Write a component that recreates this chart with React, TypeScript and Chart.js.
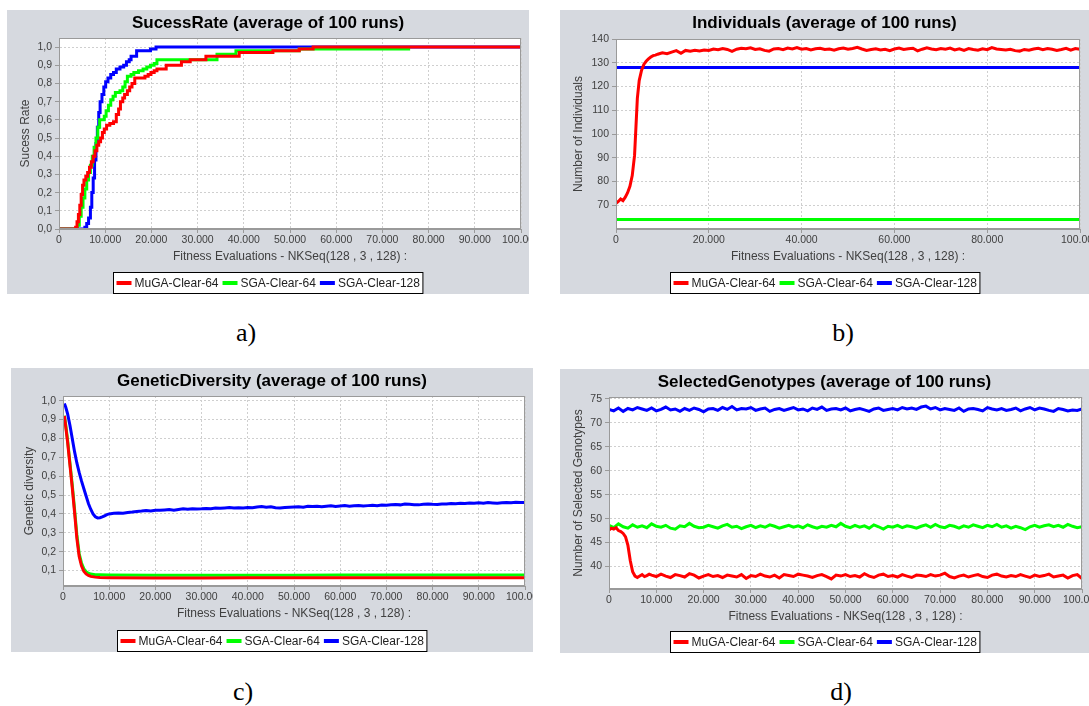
import React, { useEffect, useRef } from 'react';
import { Chart, registerables } from 'chart.js';

Chart.register(...registerables);

// ---------- shared labels ----------
const SERIES_NAMES = ['MuGA-Clear-64', 'SGA-Clear-64', 'SGA-Clear-128'];
const SERIES_COLORS = ['#ff0000', '#00ff00', '#0000ff'];
const X_TITLE = 'Fitness Evaluations - NKSeq(128 , 3 , 128) :';

// tick positions (x in thousands of fitness evaluations)
const EVAL_TICKS_10K = [0, 10, 20, 30, 40, 50, 60, 70, 80, 90, 100];
const EVAL_TICKS_20K = [0, 20, 40, 60, 80, 100];
const SUCCESS_TICKS = [0, 0.1, 0.2, 0.3, 0.4, 0.5, 0.6, 0.7, 0.8, 0.9, 1.0];
const INDIV_TICKS = [70, 80, 90, 100, 110, 120, 130, 140];
const DIV_TICKS = [0.1, 0.2, 0.3, 0.4, 0.5, 0.6, 0.7, 0.8, 0.9, 1.0];
const SEL_TICKS = [40, 45, 50, 55, 60, 65, 70, 75];

type Pt = [number, number];

// ---------- a) success rate (step curves) ----------
const SUCCESS_MUGA64: Pt[] = [
  [0, 0], [3.6, 0.01], [3.9, 0.04], [4.2, 0.08], [4.5, 0.13], [4.8, 0.19], [5.1, 0.24], [5.4, 0.27],
  [5.8, 0.29], [6.2, 0.31], [6.6, 0.34], [7.0, 0.37], [7.4, 0.4], [7.8, 0.43], [8.2, 0.46], [8.6, 0.48],
  [9.0, 0.5], [9.4, 0.53], [9.8, 0.55], [10.3, 0.57], [11.0, 0.58], [11.8, 0.59], [12.4, 0.63],
  [12.9, 0.66], [13.3, 0.7], [13.8, 0.72], [14.2, 0.74], [14.8, 0.76], [15.3, 0.78], [15.8, 0.8],
  [16.4, 0.83], [18.0, 0.83], [18.6, 0.84], [19.3, 0.85], [19.9, 0.86], [20.6, 0.87], [21.2, 0.88],
  [23.2, 0.9], [26.5, 0.92], [28.4, 0.93], [31.8, 0.95], [39.0, 0.97], [46.3, 0.98], [52.0, 0.99],
  [55.0, 1.0], [100, 1.0],
];
const SUCCESS_SGA64: Pt[] = [
  [0, 0], [4.0, 0.02], [4.4, 0.07], [4.8, 0.12], [5.2, 0.17], [5.6, 0.22], [6.0, 0.27], [6.4, 0.31],
  [6.8, 0.35], [7.2, 0.4], [7.6, 0.45], [8.0, 0.5], [8.4, 0.56], [8.8, 0.6], [9.8, 0.62], [10.2, 0.65],
  [10.7, 0.68], [11.2, 0.71], [11.7, 0.73], [12.2, 0.75], [13.2, 0.76], [13.8, 0.78], [14.3, 0.81],
  [14.8, 0.84], [15.6, 0.85], [16.2, 0.86], [17.2, 0.87], [18.2, 0.88], [19.0, 0.89], [19.8, 0.9],
  [20.6, 0.91], [21.2, 0.93], [34.2, 0.96], [38.3, 0.98], [52.0, 0.99], [76.0, 0.99],
];
const SUCCESS_SGA128: Pt[] = [
  [0, 0], [5.6, 0.01], [6.0, 0.03], [6.4, 0.06], [6.8, 0.12], [7.1, 0.2], [7.4, 0.28], [7.7, 0.38],
  [8.0, 0.47], [8.3, 0.56], [8.6, 0.64], [8.9, 0.7], [9.3, 0.74], [9.7, 0.78], [10.1, 0.81],
  [10.6, 0.83], [11.2, 0.85], [11.8, 0.86], [12.4, 0.88], [13.2, 0.89], [14.0, 0.9], [14.6, 0.92],
  [15.2, 0.93], [15.6, 0.95], [16.8, 0.98], [19.8, 0.99], [21.0, 1.0], [100, 1.0],
];

// ---------- b) number of individuals ----------
const INDIV_MUGA64_EARLY: Pt[] = [
  [0, 70.8], [0.5, 71.6], [1, 72.6], [1.5, 71.9], [2, 73.4], [2.5, 75.3], [3, 78], [3.5, 82.5],
  [4, 91], [4.3, 103], [4.6, 115], [5, 122.5], [5.5, 126.8], [6, 129.3], [6.5, 130.6], [7, 131.6],
  [7.5, 132.4], [8, 133], [8.5, 133.2], [9, 133.6], [9.5, 133.9],
];
// one value per 1.000 evaluations, from 10.000 to 100.000
const INDIV_MUGA64_TAIL = [
  134.2, 133.8, 134.5, 135.1, 134.0, 135.2, 134.9, 135.3, 135.0, 135.4,
  135.2, 135.8, 135.5, 136.0, 135.6, 134.8, 135.7, 136.1, 135.9, 136.3,
  135.6, 135.9, 135.2, 134.9, 135.8, 136.0, 135.5, 136.2, 135.8, 136.4,
  135.7, 136.0, 135.4, 135.9, 136.1, 135.6, 135.8, 135.3, 135.9, 136.2,
  135.7, 136.0, 136.5, 135.8, 135.2, 135.6, 135.9, 135.4, 135.7, 135.1,
  135.8, 136.2, 135.6, 135.9, 136.1, 135.0, 135.7, 136.3, 135.8, 135.5,
  136.0, 135.7, 136.2, 135.4, 135.9, 135.2, 136.0, 135.6, 135.3, 135.9,
  135.5, 136.4, 135.8, 135.6, 135.4, 135.7, 135.1, 134.9, 135.6, 135.3,
  135.8, 136.1, 135.5, 136.0, 135.7, 135.2, 135.6, 136.1, 135.3, 136.0,
  135.7,
];
const INDIV_SGA64: Pt[] = [[0, 64], [100, 64]];
const INDIV_SGA128: Pt[] = [[0, 128], [100, 128]];

// ---------- c) genetic diversity ----------
const DIV_MUGA64: Pt[] = [
  [0.3, 0.92], [0.6, 0.86], [1.0, 0.78], [1.5, 0.66], [2.0, 0.54], [2.5, 0.41], [3.0, 0.27],
  [3.5, 0.175], [4.0, 0.125], [4.5, 0.097], [5.0, 0.082], [5.5, 0.074], [6.0, 0.069], [7.0, 0.065],
  [8.0, 0.063], [10, 0.062], [20, 0.061], [30, 0.061], [40, 0.062], [50, 0.062], [60, 0.062],
  [70, 0.062], [80, 0.062], [90, 0.062], [100, 0.062],
];
const DIV_SGA64: Pt[] = [
  [0.3, 0.92], [0.6, 0.87], [1.0, 0.79], [1.5, 0.67], [2.0, 0.555], [2.5, 0.425], [3.0, 0.29],
  [3.5, 0.19], [4.0, 0.14], [4.5, 0.11], [5.0, 0.094], [5.5, 0.086], [6.0, 0.081], [7.0, 0.078],
  [8.0, 0.077], [10, 0.076], [20, 0.075], [30, 0.075], [40, 0.075], [50, 0.075], [60, 0.076],
  [70, 0.076], [80, 0.076], [90, 0.076], [100, 0.076],
];
const DIV_SGA128_EARLY: Pt[] = [
  [0.3, 0.985], [0.6, 0.965], [1.0, 0.93], [1.5, 0.87], [2.0, 0.8], [2.5, 0.73], [3.0, 0.67],
  [3.5, 0.62], [4.0, 0.575], [4.5, 0.535], [5.0, 0.495], [5.5, 0.455], [6.0, 0.425], [6.5, 0.4],
  [7.0, 0.385], [7.5, 0.379], [8.0, 0.38], [8.5, 0.384], [9.0, 0.39], [9.5, 0.396], [10, 0.4],
];
// one value per 1.000 evaluations, from 11.000 to 100.000
const DIV_SGA128_TAIL = [
  0.403, 0.405, 0.404, 0.408, 0.41, 0.413, 0.415, 0.418, 0.416, 0.42,
  0.419, 0.421, 0.423, 0.42, 0.424, 0.427, 0.425, 0.428, 0.426, 0.427,
  0.429, 0.428, 0.431, 0.43, 0.432, 0.434, 0.431, 0.433, 0.432, 0.434,
  0.433, 0.437, 0.439, 0.436, 0.438, 0.433, 0.431, 0.434, 0.436, 0.437,
  0.438, 0.436, 0.441, 0.439, 0.44, 0.438, 0.441, 0.443, 0.44, 0.442,
  0.444, 0.441, 0.443, 0.445, 0.442, 0.444, 0.446, 0.443, 0.447, 0.446,
  0.449, 0.45, 0.448, 0.452, 0.451, 0.449, 0.448, 0.451, 0.453, 0.451,
  0.45, 0.453, 0.452, 0.455, 0.454, 0.456, 0.455, 0.458, 0.456, 0.459,
  0.457, 0.46, 0.458, 0.456, 0.459, 0.461, 0.459, 0.462, 0.46, 0.461,
];

// ---------- d) selected genotypes ----------
const SEL_MUGA64_EARLY: Pt[] = [
  [0, 47.6], [0.5, 48.0], [1, 47.8], [1.5, 48.1], [2, 47.5], [2.5, 47.3], [3, 46.9], [3.5, 46.2],
  [4, 44.4], [4.5, 41.2], [5, 38.9], [5.5, 38.0], [6, 37.7], [6.5, 38.0], [7, 38.3], [7.5, 37.9],
  [8, 38.1], [8.5, 38.4],
];
// one value per 1.000 evaluations, from 9.000 to 100.000
const SEL_MUGA64_TAIL = [
  38.2, 37.9, 38.4, 38.0, 37.7, 38.3, 38.1, 37.8, 38.5, 38.2,
  37.6, 38.0, 38.3, 37.9, 38.1, 37.7, 38.2, 38.0, 37.8, 38.3,
  37.5, 38.1, 37.9, 38.4, 38.0, 37.8, 38.2, 37.6, 38.3, 38.1,
  37.9, 38.4, 38.2, 38.0, 37.7, 38.1, 38.3, 37.9, 37.4, 38.2,
  38.0, 38.3, 37.9, 38.1, 37.8, 38.5, 38.0, 37.7, 38.2, 38.4,
  37.9, 38.1, 37.8, 38.3, 38.0, 37.7, 38.2, 38.1, 37.9, 38.3,
  38.0, 38.2, 38.6, 37.9, 37.6, 38.0, 38.2, 37.8, 38.1, 38.3,
  37.9, 37.7, 38.2, 38.4, 38.0, 37.8, 38.1, 37.9, 38.3, 38.0,
  37.7, 38.2, 37.9, 38.1, 38.4, 37.8, 38.0, 38.2, 37.6, 38.1,
  38.3, 37.5,
];
// one value per 1.000 evaluations, from 0 to 100.000
const SEL_SGA64 = [
  48.6, 48.1, 48.9, 48.3, 48.0, 48.7, 48.2, 48.5, 48.1, 48.9,
  48.4, 48.2, 48.6, 48.0, 47.8, 48.5, 48.3, 49.0, 48.4, 48.1,
  48.2, 48.6, 48.3, 48.0, 48.5, 48.8, 48.2, 48.4, 47.9, 48.3,
  48.6, 48.1, 48.5, 48.2, 48.7, 48.4, 48.0, 48.3, 48.6, 48.2,
  48.5, 48.1, 48.7, 48.3, 48.0, 48.4, 48.2, 48.6, 48.3, 49.0,
  48.4, 48.1, 48.6, 48.2, 48.5, 48.0, 48.7, 48.3, 47.8, 48.4,
  48.2, 48.6, 48.1, 48.5, 48.3, 48.0, 48.4, 48.7, 48.2, 48.8,
  48.3, 48.1, 48.6, 48.4, 48.0, 48.5, 48.2, 48.7, 48.4, 48.1,
  48.6, 48.3, 48.8, 48.2, 48.5, 48.0, 48.4, 48.1, 47.7, 48.3,
  48.6, 48.2, 48.5, 48.7, 48.3, 48.6, 48.2, 48.8, 48.4, 48.1,
  48.3,
];
const SEL_SGA128 = [
  72.8, 72.5, 73.1, 72.4, 73.0, 72.7, 73.2, 72.9, 72.6, 73.1,
  72.5, 72.8, 73.3, 72.7, 72.9, 72.4, 73.0, 72.6, 73.1, 72.8,
  72.3, 72.9, 73.0, 72.6, 73.2, 72.8, 73.4, 72.7, 73.0, 72.9,
  73.2, 72.6, 72.9, 73.1, 72.4, 72.8, 73.0, 72.6, 72.9, 73.2,
  72.7, 72.9, 72.5, 73.1, 72.8, 73.3, 72.6, 72.9, 73.0, 72.7,
  73.1, 72.5, 72.8, 73.0, 72.7, 72.4, 72.9, 73.1, 72.6, 72.8,
  73.0, 72.7, 73.2, 72.9, 73.1, 72.8, 73.3, 73.5, 72.9, 73.2,
  72.7, 73.0, 72.8, 72.6, 73.1, 72.4, 72.9, 73.0, 72.8, 72.5,
  73.2, 72.9, 72.7, 73.0, 72.6, 72.8, 73.1, 72.5, 72.9, 73.2,
  72.7, 73.1, 72.9, 72.6, 72.4, 73.0, 72.8, 72.5, 72.7, 72.6,
  72.9,
];

// ---------- helpers ----------
type XY = { x: number; y: number };
const fromPairs = (pairs: Pt[]): XY[] => pairs.map(([x, y]) => ({ x, y }));
const sampledFrom = (startK: number, values: number[]): XY[] => values.map((y, i) => ({ x: startK + i, y }));

const FONT = '"Liberation Sans", Arial, Helvetica, sans-serif';
const PANEL_BG = '#d6d9df';
const GRID_COLOR = '#cfcfcf';
const FRAME_COLOR = '#9a9a9a';
const TEXT_DARK = '#404040';
const X_AXIS_H = 36;

interface PanelSpec {
  left: number; top: number; width: number; height: number;
  plotLeft: number; plotTop: number; plotRight: number; plotBottom: number;
  title: string; yTitle: string;
  xTicks: number[];
  yMin: number; yMax: number; yTicks: number[]; yDecimals: number;
  stepped: boolean;
  series: XY[][];
}

const PANELS: PanelSpec[] = [
  {
    left: 7, top: 10, width: 522, height: 284,
    plotLeft: 52, plotTop: 28, plotRight: 514, plotBottom: 219,
    title: 'SucessRate (average of 100 runs)', yTitle: 'Sucess Rate',
    xTicks: EVAL_TICKS_10K, yMin: 0, yMax: 1.05, yTicks: SUCCESS_TICKS, yDecimals: 1, stepped: true,
    series: [fromPairs(SUCCESS_MUGA64), fromPairs(SUCCESS_SGA64), fromPairs(SUCCESS_SGA128)],
  },
  {
    left: 560, top: 10, width: 529, height: 284,
    plotLeft: 56, plotTop: 29, plotRight: 520, plotBottom: 219,
    title: 'Individuals (average of 100 runs)', yTitle: 'Number of Individuals',
    xTicks: EVAL_TICKS_20K, yMin: 60, yMax: 140, yTicks: INDIV_TICKS, yDecimals: 0, stepped: false,
    series: [
      [...fromPairs(INDIV_MUGA64_EARLY), ...sampledFrom(10, INDIV_MUGA64_TAIL)],
      fromPairs(INDIV_SGA64),
      fromPairs(INDIV_SGA128),
    ],
  },
  {
    left: 11, top: 368, width: 522, height: 284,
    plotLeft: 52, plotTop: 28, plotRight: 514, plotBottom: 218,
    title: 'GeneticDiversity (average of 100 runs)', yTitle: 'Genetic diversity',
    xTicks: EVAL_TICKS_10K, yMin: 0.018, yMax: 1.025, yTicks: DIV_TICKS, yDecimals: 1, stepped: false,
    series: [
      fromPairs(DIV_MUGA64),
      fromPairs(DIV_SGA64),
      [...fromPairs(DIV_SGA128_EARLY), ...sampledFrom(11, DIV_SGA128_TAIL)],
    ],
  },
  {
    left: 560, top: 369, width: 529, height: 284,
    plotLeft: 49, plotTop: 28, plotRight: 522, plotBottom: 220,
    title: 'SelectedGenotypes (average of 100 runs)', yTitle: 'Number of Selected Genotypes',
    xTicks: EVAL_TICKS_10K, yMin: 35.3, yMax: 75.4, yTicks: SEL_TICKS, yDecimals: 0, stepped: false,
    series: [
      [...fromPairs(SEL_MUGA64_EARLY), ...sampledFrom(9, SEL_MUGA64_TAIL)],
      sampledFrom(0, SEL_SGA64),
      sampledFrom(0, SEL_SGA128),
    ],
  },
];

const CAPTIONS = [
  { text: 'a)', x: 246, y: 333 },
  { text: 'b)', x: 843, y: 333 },
  { text: 'c)', x: 243, y: 692 },
  { text: 'd)', x: 841, y: 692 },
];

const formatEvals = (v: number) => (v === 0 ? '0' : `${Math.round(v)}.000`);

// Panel background, plot frame, title and boxed legend
function makeDecor(spec: PanelSpec) {
  return {
    id: 'panelDecor',
    beforeDraw(chart: Chart) {
      const { ctx, chartArea: a, width, height } = chart;
      ctx.save();
      ctx.fillStyle = PANEL_BG;
      ctx.fillRect(0, 0, width, height);
      ctx.fillStyle = '#ffffff';
      ctx.fillRect(a.left, a.top, a.right - a.left, a.bottom - a.top);
      ctx.restore();
    },
    afterDraw(chart: Chart) {
      const { ctx, chartArea: a, width, height } = chart;
      ctx.save();
      // plot outline
      ctx.strokeStyle = FRAME_COLOR;
      ctx.lineWidth = 1;
      ctx.strokeRect(Math.round(a.left) + 0.5, Math.round(a.top) + 0.5,
        Math.round(a.right - a.left) - 1, Math.round(a.bottom - a.top) - 1);

      // title
      ctx.fillStyle = '#000000';
      ctx.font = `bold 17px ${FONT}`;
      ctx.textAlign = 'center';
      ctx.textBaseline = 'middle';
      ctx.fillText(spec.title, width / 2, 13);

      // legend
      const sets = chart.data.datasets as any[];
      ctx.font = `12px ${FONT}`;
      const LINE = 15, GAP = 3, ITEM_GAP = 4, PAD = 3, BOX_H = 21;
      const textW = sets.map((d) => ctx.measureText(d.label).width);
      const total = PAD * 2 + textW.reduce((s, w) => s + LINE + GAP + w, 0) + ITEM_GAP * (sets.length - 1);
      const x0 = Math.round((width - total) / 2) + 0.5;
      const y0 = height - 22 + 0.5;
      ctx.fillStyle = '#ffffff';
      ctx.fillRect(x0, y0, total, BOX_H);
      ctx.strokeStyle = '#000000';
      ctx.lineWidth = 1;
      ctx.strokeRect(x0, y0, total, BOX_H);
      let x = x0 + PAD;
      const cy = y0 + BOX_H / 2;
      sets.forEach((d, i) => {
        ctx.strokeStyle = d.borderColor;
        ctx.lineWidth = 4;
        ctx.beginPath();
        ctx.moveTo(x, cy);
        ctx.lineTo(x + LINE, cy);
        ctx.stroke();
        x += LINE + GAP;
        ctx.fillStyle = '#222222';
        ctx.textAlign = 'left';
        ctx.textBaseline = 'middle';
        ctx.fillText(d.label, x, cy + 0.5);
        x += textW[i] + ITEM_GAP;
      });
      ctx.restore();
    },
  };
}

function buildConfig(spec: PanelSpec): any {
  const tickFont = { family: FONT, size: 10.5 };
  const grid = { color: GRID_COLOR, lineWidth: 1, tickLength: 4, tickColor: FRAME_COLOR, tickBorderDash: [] };
  const border = { display: true, color: FRAME_COLOR, dash: [2, 2] };
  return {
    type: 'line',
    data: {
      datasets: spec.series.map((data, i) => ({
        label: SERIES_NAMES[i],
        data,
        borderColor: SERIES_COLORS[i],
        backgroundColor: SERIES_COLORS[i],
        borderWidth: 3,
        pointRadius: 0,
        fill: false,
        tension: 0,
        stepped: spec.stepped,
      })),
    },
    options: {
      animation: false,
      responsive: false,
      maintainAspectRatio: false,
      devicePixelRatio: 1,
      events: [],
      layout: {
        padding: {
          left: 0,
          top: spec.plotTop,
          right: spec.width - spec.plotRight,
          bottom: spec.height - spec.plotBottom - X_AXIS_H,
        },
      },
      plugins: {
        legend: { display: false },
        title: { display: false },
        tooltip: { enabled: false },
      },
      scales: {
        x: {
          type: 'linear',
          min: 0,
          max: 100,
          afterBuildTicks: (s: any) => {
            s.ticks = spec.xTicks.map((value) => ({ value }));
          },
          ticks: {
            autoSkip: false,
            maxRotation: 0,
            color: TEXT_DARK,
            font: tickFont,
            padding: 1,
            callback: (v: number) => formatEvals(v),
          },
          grid,
          border,
          title: {
            display: true,
            text: X_TITLE,
            color: TEXT_DARK,
            font: { family: FONT, size: 12 },
            padding: { top: 0, bottom: 1 },
          },
          afterFit: (s: any) => {
            s.height = X_AXIS_H;
            s.paddingLeft = 0;
            s.paddingRight = 0;
          },
        },
        y: {
          type: 'linear',
          min: spec.yMin,
          max: spec.yMax,
          afterBuildTicks: (s: any) => {
            s.ticks = spec.yTicks.map((value) => ({ value }));
          },
          ticks: {
            autoSkip: false,
            color: TEXT_DARK,
            font: tickFont,
            padding: 3,
            callback: (v: number) =>
              spec.yDecimals > 0 ? v.toFixed(spec.yDecimals).replace('.', ',') : String(Math.round(v)),
          },
          grid,
          border,
          title: {
            display: true,
            text: spec.yTitle,
            color: TEXT_DARK,
            font: { family: FONT, size: 12 },
            padding: { top: 11, bottom: 0 },
          },
          afterFit: (s: any) => {
            s.width = spec.plotLeft;
          },
        },
      },
    },
    plugins: [makeDecor(spec)],
  };
}

function Panel({ spec }: { spec: PanelSpec }) {
  const ref = useRef<HTMLCanvasElement>(null);
  useEffect(() => {
    const chart = new Chart(ref.current as HTMLCanvasElement, buildConfig(spec));
    return () => chart.destroy();
  }, [spec]);
  return (
    <canvas
      ref={ref}
      width={spec.width}
      height={spec.height}
      style={{ position: 'absolute', left: spec.left, top: spec.top, width: spec.width, height: spec.height }}
    />
  );
}

export default function App() {
  return (
    <div style={{ position: 'fixed', left: 0, top: 0, width: 1089, height: 706, background: '#ffffff', overflow: 'hidden' }}>
      {PANELS.map((p) => (
        <Panel key={p.title} spec={p} />
      ))}
      {CAPTIONS.map((c) => (
        <div
          key={c.text}
          style={{
            position: 'absolute',
            left: c.x - 30,
            top: c.y - 15,
            width: 60,
            height: 30,
            lineHeight: '30px',
            textAlign: 'center',
            fontFamily: '"Liberation Serif", "Times New Roman", serif',
            fontSize: 26,
            color: '#000',
          }}
        >
          {c.text}
        </div>
      ))}
    </div>
  );
}
